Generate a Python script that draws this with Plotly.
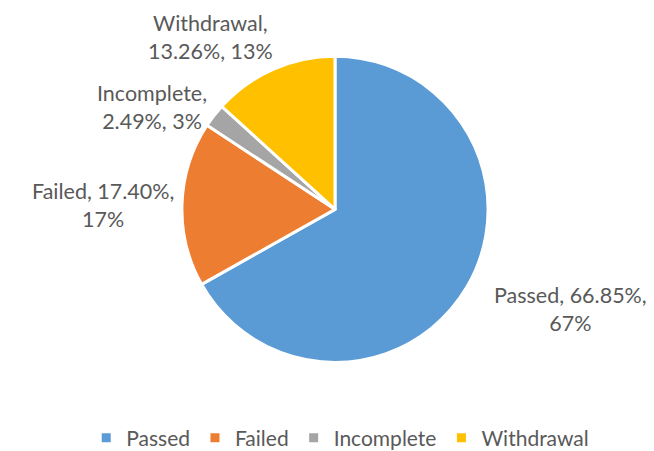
import plotly.graph_objects as go

categories = ["Passed", "Failed", "Incomplete", "Withdrawal"]
values = [66.85, 17.40, 2.49, 13.26]
rounded = [67, 17, 3, 13]
colors = ["#5B9BD5", "#ED7D31", "#A5A5A5", "#FFC000"]

W, H = 654, 451

fig = go.Figure(go.Pie(
    labels=categories, values=values, sort=False, direction="clockwise", rotation=0,
    marker=dict(colors=colors, line=dict(color="white", width=3)),
    textinfo="none", hoverinfo="label+percent",
    domain=dict(x=[172 / W, 482 / W], y=[1 - 360 / H, 1 - 49 / H]),
))

label_lines = [
    (f"{categories[0]}, {values[0]:.2f}%,", f"{rounded[0]}%"),
    (f"{categories[1]}, {values[1]:.2f}%,", f"{rounded[1]}%"),
    (f"{categories[2]},", f"{values[2]:.2f}%, {rounded[2]}%"),
    (f"{categories[3]},", f"{values[3]:.2f}%, {rounded[3]}%"),
]
label_pos = [(562, 306), (95, 200), (144, 101), (202, 29)]
for (l1, l2), (px, py) in zip(label_lines, label_pos):
    fig.add_annotation(
        x=px / W, y=1 - py / H, xref="paper", yref="paper",
        text=f"{l1}<br>{l2}", showarrow=False, xanchor="center", yanchor="middle",
        font=dict(family="Lato, Carlito, sans-serif", size=21.5, color="#595959"),
    )

fig.update_layout(
    width=W, height=H, margin=dict(l=0, r=0, t=0, b=0),
    paper_bgcolor="white", plot_bgcolor="white",
    showlegend=True,
    legend=dict(orientation="h", x=0.508, xanchor="center", y=1 - 437 / H, yanchor="middle",
                font=dict(family="Lato, Carlito, sans-serif", size=21, color="#595959"),
                itemwidth=30, traceorder="normal"),
)
fig.write_html("out.html")
